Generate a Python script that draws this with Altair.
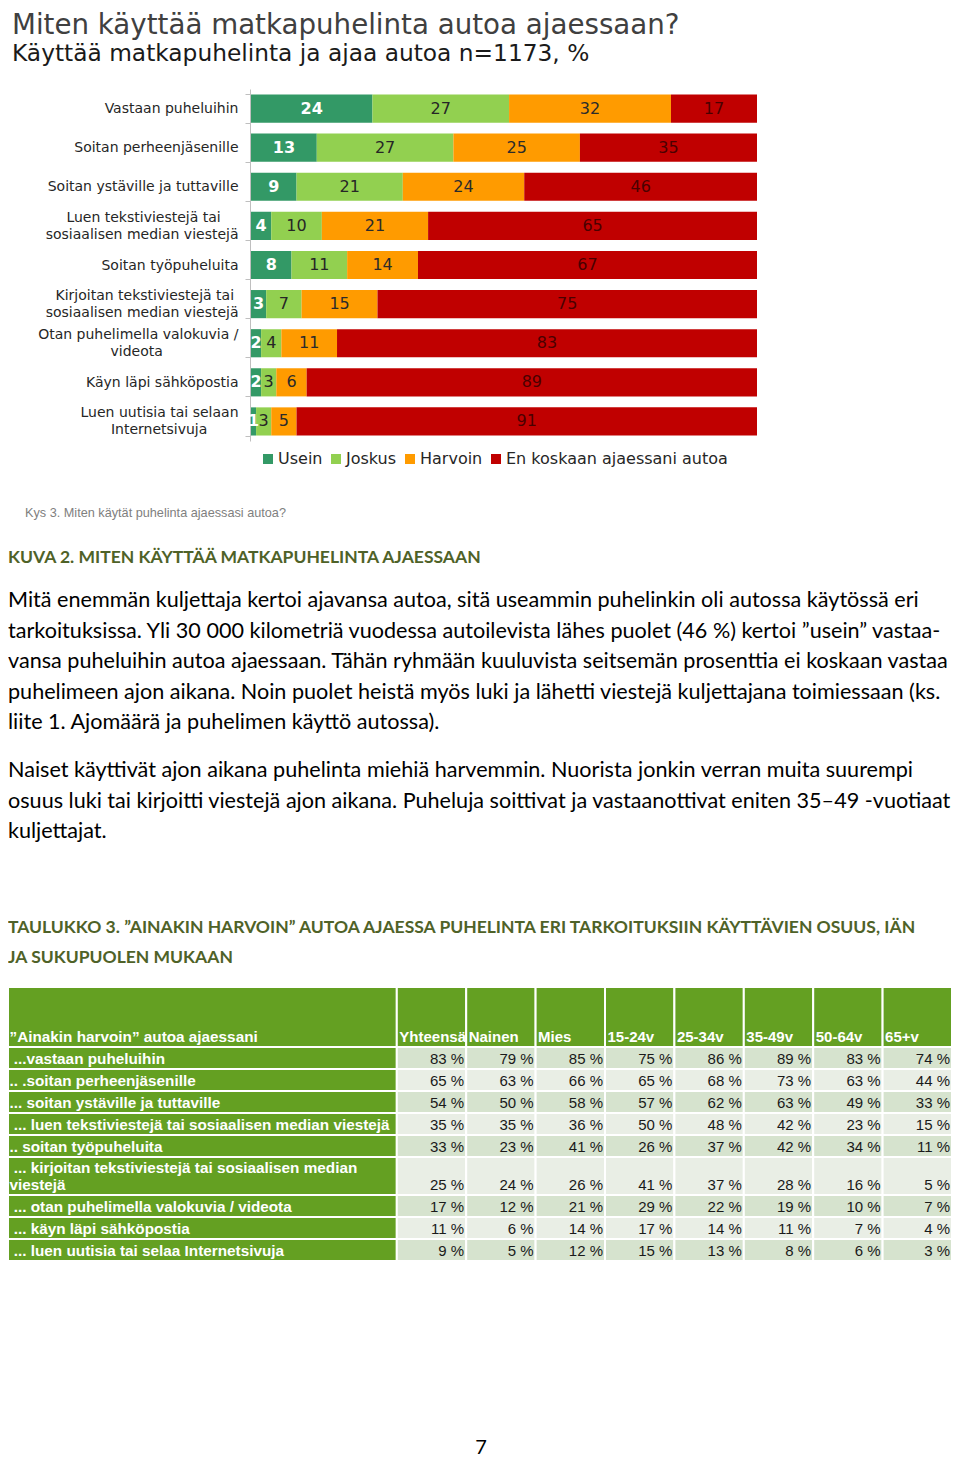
import altair as alt
import pandas as pd

# ---------------- data ----------------
title = "Miten käyttää matkapuhelinta autoa ajaessaan?"
subtitle = "Käyttää matkapuhelinta ja ajaa autoa n=1173, %"

categories = [
    "Vastaan puheluihin",
    "Soitan perheenjäsenille",
    "Soitan ystäville ja tuttaville",
    "Luen tekstiviestejä tai|sosiaalisen median viestejä",
    "Soitan työpuheluita",
    "Kirjoitan tekstiviestejä tai|sosiaalisen median viestejä",
    "Otan puhelimella valokuvia /|videota",
    "Käyn läpi sähköpostia",
    "Luen uutisia tai selaan|Internetsivuja",
]
series = ["Usein", "Joskus", "Harvoin", "En koskaan ajaessani autoa"]
usein = [24, 13, 9, 4, 8, 3, 2, 2, 1]
joskus = [27, 27, 21, 10, 11, 7, 4, 3, 3]
harvoin = [32, 25, 24, 21, 14, 15, 11, 6, 5]
en_koskaan = [17, 35, 46, 65, 67, 75, 83, 89, 91]

footnote = "Kys 3. Miten käytät puhelinta ajaessasi autoa?"
heading1 = "KUVA 2. MITEN KÄYTTÄÄ MATKAPUHELINTA AJAESSAAN"
paragraph1 = [
    "Mitä enemmän kuljettaja kertoi ajavansa autoa, sitä useammin puhelinkin oli autossa käytössä eri",
    "tarkoituksissa. Yli 30 000 kilometriä vuodessa autoilevista lähes puolet (46 %) kertoi ”usein” vastaa-",
    "vansa puheluihin autoa ajaessaan. Tähän ryhmään kuuluvista seitsemän prosenttia ei koskaan vastaa",
    "puhelimeen ajon aikana. Noin puolet heistä myös luki ja lähetti viestejä kuljettajana toimiessaan (ks.",
    "liite 1.  Ajomäärä ja puhelimen käyttö autossa).",
]
paragraph2 = [
    "Naiset käyttivät ajon aikana puhelinta miehiä harvemmin. Nuorista jonkin verran muita suurempi",
    "osuus luki tai kirjoitti viestejä ajon aikana. Puheluja soittivat ja vastaanottivat eniten 35–49 -vuotiaat",
    "kuljettajat.",
]
heading2 = [
    "TAULUKKO 3. ”AINAKIN HARVOIN” AUTOA AJAESSA PUHELINTA ERI TARKOITUKSIIN KÄYTTÄVIEN OSUUS, IÄN",
    "JA SUKUPUOLEN MUKAAN",
]

table_header = "”Ainakin harvoin” autoa ajaessani"
table_cols = ["Yhteensä", "Nainen", "Mies", "15-24v", "25-34v", "35-49v", "50-64v", "65+v"]
table_rows = [
    " ...vastaan puheluihin",
    ".. .soitan perheenjäsenille",
    "... soitan ystäville ja tuttaville",
    " ... luen tekstiviestejä tai sosiaalisen median viestejä",
    ".. soitan työpuheluita",
    " ... kirjoitan tekstiviestejä tai sosiaalisen median\nviestejä",
    " ... otan puhelimella valokuvia / videota",
    " ... käyn läpi sähköpostia",
    " ... luen uutisia tai selaa Internetsivuja",
]
yhteensa = [83, 65, 54, 35, 33, 25, 17, 11, 9]
nainen = [79, 63, 50, 35, 23, 24, 12, 6, 5]
mies = [85, 66, 58, 36, 41, 26, 21, 14, 12]
v15_24 = [75, 65, 57, 50, 26, 41, 29, 17, 15]
v25_34 = [86, 68, 62, 48, 37, 37, 22, 14, 13]
v35_49 = [89, 73, 63, 42, 42, 28, 19, 11, 8]
v50_64 = [83, 63, 49, 23, 34, 16, 10, 7, 6]
v65 = [74, 44, 33, 15, 11, 5, 7, 4, 3]
page_number = "7"

# ---------------- styles ----------------
W, H = 944, 1450
bar_colors = ["#339966", "#92D050", "#FF9B00", "#C00000"]
text_colors = ["white", "#262626", "#2b2b2b", "#4a0000"]
GREEN = "#64A022"
HEAD = "#4F6228"
ROW_DARK = "#D6E3CE"
ROW_LIGHT = "#E9EEE5"
NBSP, ZWSP = "\u00a0", "\u200b"
# non-breaking spaces used to centre the shorter line of two-line axis labels
label_pad = {3: (4, 0), 5: (1, 0), 6: (0, 17), 8: (0, 7)}


def keep_lead(s):
    # a leading space is kept visible (protected from trimming)
    return ZWSP + NBSP + s[1:] if s.startswith(" ") else s


# ---------------- bar chart ----------------
rows = []
for i, c in enumerate(categories):
    vals = [usein[i], joskus[i], harvoin[i], en_koskaan[i]]
    start = 0
    for s, v in zip(series, vals):
        rows.append(dict(cat=c, series=s, value=v, start=start, end=start + v,
                         mid=start + v / 2))
        start += v
bar_df = pd.DataFrame(rows)

cases = []
for idx, (p1, p2) in label_pad.items():
    parts = categories[idx].split("|")
    l1 = parts[0] + NBSP * p1 + ZWSP
    l2 = parts[1] + NBSP * p2 + ZWSP
    cases.append(f"datum.label == '{categories[idx]}' ? ['{l1}', '{l2}']")
label_expr = " : ".join(cases) + " : split(datum.label, '|')"

y_enc = alt.Y(
    "cat:N", sort=categories,
    scale=alt.Scale(domain=categories, range=[81, 433], paddingInner=0.28, paddingOuter=0.14),
    axis=alt.Axis(title=None, offset=-242, labelExpr=label_expr,
                  labelFont="DejaVu Sans", labelFontSize=14, labelColor="#262626",
                  labelLineHeight=17, labelPadding=7, tickSize=5, tickBand="extent",
                  labelOffset=alt.condition("indexof(datum.label, '|') >= 0",
                                            alt.value(-8.5), alt.value(0)),
                  domainColor="#bfbfbf", tickColor="#bfbfbf", labelLimit=0, grid=False),
)
x_scale = alt.Scale(domain=[0, 100], range=[243, 749], nice=False, zero=False)

bars = alt.Chart(bar_df).mark_bar().encode(
    y=y_enc,
    x=alt.X("start:Q", scale=x_scale, axis=None),
    x2="end:Q",
    color=alt.Color("series:N", scale=alt.Scale(domain=series, range=bar_colors),
                    legend=alt.Legend(title=None, orient="none", legendX=252, legendY=443,
                                      direction="horizontal", symbolType="square",
                                      symbolSize=100, symbolStrokeWidth=0,
                                      labelFont="DejaVu Sans", labelFontSize=16,
                                      labelColor="#262626", columnPadding=5, labelOffset=2,
                                      labelLimit=400)),
)
bar_layers = [bars]
for s, tc in zip(series, text_colors):
    bar_layers.append(
        alt.Chart(bar_df).transform_filter(alt.datum.series == s).mark_text(
            font="DejaVu Sans", fontSize=16, color=tc,
            fontWeight="bold" if s == "Usein" else "normal", baseline="middle"
        ).encode(y=y_enc, x=alt.X("mid:Q", scale=x_scale, axis=None), text="value:Q")
    )
bar_chart = alt.layer(*bar_layers)

# ---------------- table ----------------
COL_W = 69.4
LABEL_W = W - COL_W * len(table_cols)
HEADER_H = 60
ROW_H = 22
LINE_H = 17
col_vals = [yhteensa, nainen, mies, v15_24, v25_34, v35_49, v50_64, v65]

cells, ltexts, htexts, vtexts = [], [], [], []
cells.append(dict(x0=0, x1=LABEL_W, y0=0, y1=HEADER_H, fill=GREEN))
ltexts.append(dict(x0=0, ty=HEADER_H, t=table_header))
for j, c in enumerate(table_cols):
    x0 = LABEL_W + j * COL_W
    cells.append(dict(x0=x0, x1=x0 + COL_W, y0=0, y1=HEADER_H, fill=GREEN))
    htexts.append(dict(x0=x0, ty=HEADER_H, t=c))
y = HEADER_H
for i, lab in enumerate(table_rows):
    extra = lab.count("\n")
    h = ROW_H + (LINE_H - 1) * extra
    cells.append(dict(x0=0, x1=LABEL_W, y0=y, y1=y + h, fill=GREEN))
    ltexts.append(dict(x0=0, ty=y + h - LINE_H * extra, t=keep_lead(lab)))
    fill = ROW_DARK if i % 2 == 0 else ROW_LIGHT
    for j in range(len(table_cols)):
        x0 = LABEL_W + j * COL_W
        cells.append(dict(x0=x0, x1=x0 + COL_W, y0=y, y1=y + h, fill=fill))
        vtexts.append(dict(x1=x0 + COL_W, y1=y + h, t=f"{col_vals[j][i]} %"))
    y += h
TABLE_TOTAL = y

tx = alt.Scale(domain=[0, W], range=[0, W], nice=False, zero=False)
ty = alt.Scale(domain=[0, TABLE_TOTAL], range=[979, 979 + TABLE_TOTAL], nice=False, zero=False)

t_cells = alt.Chart(pd.DataFrame(cells)).mark_rect(stroke="white", strokeWidth=2).encode(
    x=alt.X("x0:Q", scale=tx, axis=None), x2="x1:Q",
    y=alt.Y("y0:Q", scale=ty, axis=None), y2="y1:Q",
    color=alt.Color("fill:N", scale=None),
)
t_labels = alt.Chart(pd.DataFrame(ltexts)).mark_text(
    font="Liberation Sans", fontSize=15.3, fontWeight="bold", color="white",
    align="left", baseline="bottom", dx=1.5, dy=-2, lineBreak="\n", lineHeight=LINE_H,
).encode(x=alt.X("x0:Q", scale=tx, axis=None), y=alt.Y("ty:Q", scale=ty, axis=None), text="t:N")
t_heads = alt.Chart(pd.DataFrame(htexts)).mark_text(
    font="Liberation Sans", fontSize=15, fontWeight="bold", color="white",
    align="left", baseline="bottom", dx=2.5, dy=-2,
).encode(x=alt.X("x0:Q", scale=tx, axis=None), y=alt.Y("ty:Q", scale=ty, axis=None), text="t:N")
t_values = alt.Chart(pd.DataFrame(vtexts)).mark_text(
    font="Liberation Sans", fontSize=15, color="#1a1a1a",
    align="right", baseline="bottom", dx=-2, dy=-2,
).encode(x=alt.X("x1:Q", scale=tx, axis=None), y=alt.Y("y1:Q", scale=ty, axis=None), text="t:N")
table = alt.layer(t_cells, t_labels, t_heads, t_values)


# ---------------- free text ----------------
def txt(s, x, y, **kw):
    props = dict(align="left", baseline="alphabetic")
    props.update(kw)
    return alt.Chart(alt.Data(values=[{"t": s}])).mark_text(**props).encode(
        x=alt.value(x), y=alt.value(y), text="t:N")


texts = [
    txt(title, 4, 26, font="DejaVu Sans", fontSize=27.7, color="#404040"),
    txt(subtitle, 4, 53, font="DejaVu Sans", fontSize=23.3, color="#1a1a1a"),
    txt(footnote, 17, 509, font="Liberation Sans", fontSize=12.7, color="#808080"),
    txt(heading1, 0, 555, font="Lato", fontSize=17.5, fontWeight="bold", color=HEAD),
    txt("\n".join(paragraph1), 0, 599, font="Lato", fontSize=21.6, color="black",
        lineBreak="\n", lineHeight=30.5),
    txt("\n".join(paragraph2), 0, 769, font="Lato", fontSize=21.6, color="black",
        lineBreak="\n", lineHeight=30.5),
    txt("\n".join(heading2), 0, 925, font="Lato", fontSize=17.5, fontWeight="bold", color=HEAD,
        lineBreak="\n", lineHeight=30),
    txt(page_number, 473, 1446, font="Lato", fontSize=20, color="black", align="center"),
]

chart = alt.layer(bar_chart, table, *texts).resolve_scale(
    x="independent", y="independent", color="independent"
).properties(
    width=W, height=H, autosize=alt.AutoSizeParams(type="none"), padding=0,
    background="white",
).configure_view(stroke=None)

chart.save("out.html", embed_options={"renderer": "svg", "actions": False})
